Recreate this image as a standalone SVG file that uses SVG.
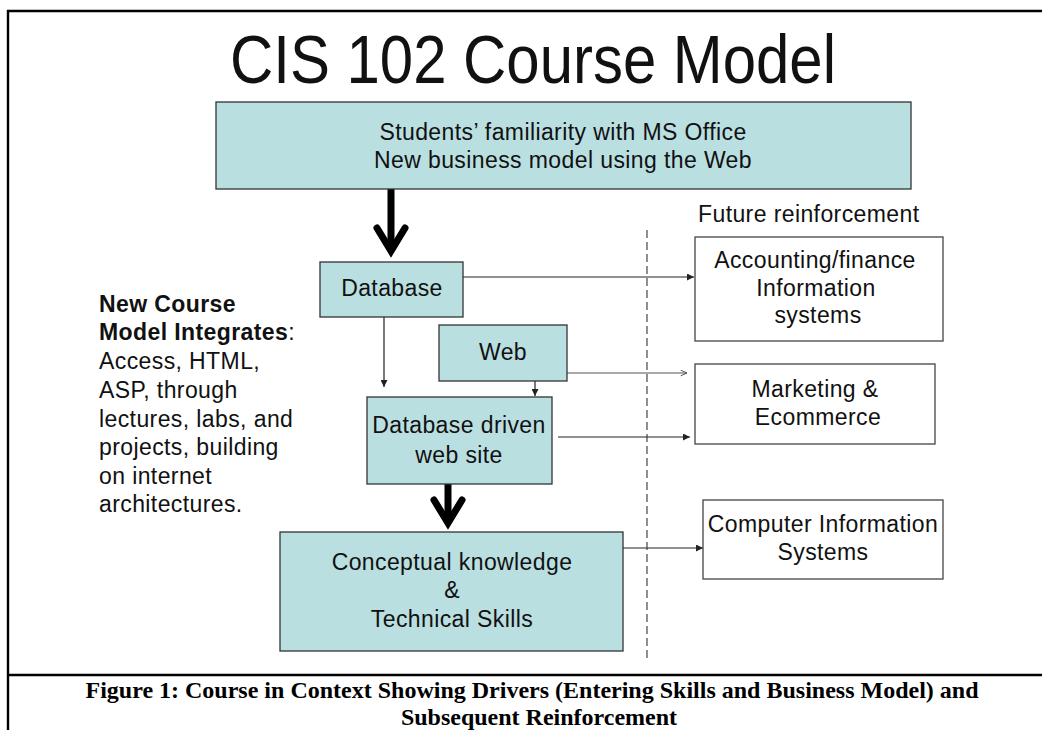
<svg xmlns="http://www.w3.org/2000/svg" width="1042" height="730" viewBox="0 0 1042 730">
  <style>
    .t { font-family: "Liberation Sans", Arial, sans-serif; font-size: 23px; letter-spacing: 0.4px; fill: #111; }
    .c { text-anchor: middle; }
    .b { font-weight: bold; }
    .teal { fill: #badfe1; stroke: #333; stroke-width: 1.3; }
    .white { fill: #fff; stroke: #444; stroke-width: 1.3; }
    .thin { fill: none; stroke: #222; stroke-width: 1.2; }
    .thick { fill: none; stroke: #000; stroke-width: 7; }
    .cap { font-family: "Liberation Serif", "Times New Roman", serif; font-weight: bold; font-size: 24px; fill: #000; text-anchor: middle; }
  </style>
  <defs>
    <marker id="ah" viewBox="0 0 10 10" refX="10" refY="5" markerWidth="8" markerHeight="7" markerUnits="userSpaceOnUse" orient="auto">
      <path d="M0,0 L10,5 L0,10 Z" fill="#222"/>
    </marker>
    <marker id="ao" viewBox="0 0 10 10" refX="10" refY="5" markerWidth="8" markerHeight="7" markerUnits="userSpaceOnUse" orient="auto">
      <path d="M1,1 L10,5 L1,9" fill="none" stroke="#555" stroke-width="1.4"/>
    </marker>
  </defs>

  <rect width="1042" height="730" fill="#fff"/>
  <!-- frame -->
  <path d="M8,730 V11 H1042" fill="none" stroke="#000" stroke-width="2.4"/>
  <line x1="8" y1="675" x2="1042" y2="675" stroke="#000" stroke-width="2.6"/>

  <text x="533" y="83" font-family="Liberation Sans, Arial, sans-serif" font-size="68" text-anchor="middle" textLength="606" lengthAdjust="spacingAndGlyphs" fill="#111">CIS 102 Course Model</text>

  <g id="connectors">
    <line class="thick" x1="391" y1="189" x2="391" y2="250"/>
    <polyline class="thick" points="377,228 391,251 405,228" stroke-linecap="round"/>
    <line class="thick" x1="448" y1="484" x2="448" y2="522"/>
    <polyline class="thick" points="434,500 448,523 462,500" stroke-linecap="round"/>
    <line class="thin" x1="384" y1="317" x2="384" y2="387" marker-end="url(#ah)"/>
    <line class="thin" x1="535" y1="381" x2="535" y2="396" marker-end="url(#ah)"/>
    <line class="thin" x1="463" y1="277" x2="694" y2="277" marker-end="url(#ah)"/>
    <line x1="567" y1="373" x2="687" y2="373" stroke="#555" stroke-width="1.2" marker-end="url(#ao)"/>
    <line class="thin" x1="558" y1="437" x2="690" y2="437" marker-end="url(#ah)"/>
    <line class="thin" x1="623" y1="548" x2="703" y2="548" marker-end="url(#ah)"/>
    <line x1="647" y1="230" x2="647" y2="660" stroke="#333" stroke-width="1.1" stroke-dasharray="8 4"/>
  </g>

  <g id="drivers">
    <rect class="teal" x="216" y="102" width="695" height="87"/>
    <text class="t c" x="563" y="140">Students’ familiarity with MS Office</text>
    <text class="t c" x="563" y="168">New business model using the Web</text>
  </g>

  <g id="database">
    <rect class="teal" x="320" y="262" width="143" height="55"/>
    <text class="t c" x="392" y="296">Database</text>
  </g>

  <g id="web">
    <rect class="teal" x="439" y="325" width="128" height="56"/>
    <text class="t c" x="503" y="360">Web</text>
  </g>

  <g id="dbweb">
    <rect class="teal" x="367" y="397" width="185" height="87"/>
    <text class="t c" x="459" y="433">Database driven</text>
    <text class="t c" x="459" y="463">web site</text>
  </g>

  <g id="conceptual">
    <rect class="teal" x="280" y="532" width="343" height="119"/>
    <text class="t c" x="452" y="570">Conceptual knowledge</text>
    <text class="t c" x="452" y="598">&amp;</text>
    <text class="t c" x="452" y="627">Technical Skills</text>
  </g>

  <g id="future-label">
    <text class="t" x="698" y="222">Future reinforcement</text>
  </g>

  <g id="accounting">
    <rect class="white" x="695" y="237" width="248" height="104"/>
    <text class="t c" x="815" y="268">Accounting/finance</text>
    <text class="t c" x="816" y="296">Information</text>
    <text class="t c" x="818" y="323">systems</text>
  </g>

  <g id="marketing">
    <rect class="white" x="695" y="364" width="240" height="80"/>
    <text class="t c" x="815" y="397">Marketing &amp;</text>
    <text class="t c" x="818" y="425">Ecommerce</text>
  </g>

  <g id="cis">
    <rect class="white" x="703" y="500" width="240" height="79"/>
    <text class="t c" x="823" y="532">Computer Information</text>
    <text class="t c" x="823" y="560">Systems</text>
  </g>

  <g id="integrates">
    <text class="t b" x="99" y="312">New Course</text>
    <text class="t" x="99" y="340"><tspan class="b">Model Integrates</tspan>:</text>
    <text class="t" x="99" y="369">Access, HTML,</text>
    <text class="t" x="99" y="398">ASP, through</text>
    <text class="t" x="99" y="427">lectures, labs, and</text>
    <text class="t" x="99" y="455">projects, building</text>
    <text class="t" x="99" y="484">on internet</text>
    <text class="t" x="99" y="512">architectures.</text>
  </g>

  <g id="caption">
    <text class="cap" x="532" y="698">Figure 1: Course in Context Showing Drivers (Entering Skills and Business Model) and</text>
    <text class="cap" x="539" y="725">Subsequent Reinforcement</text>
  </g>
</svg>
